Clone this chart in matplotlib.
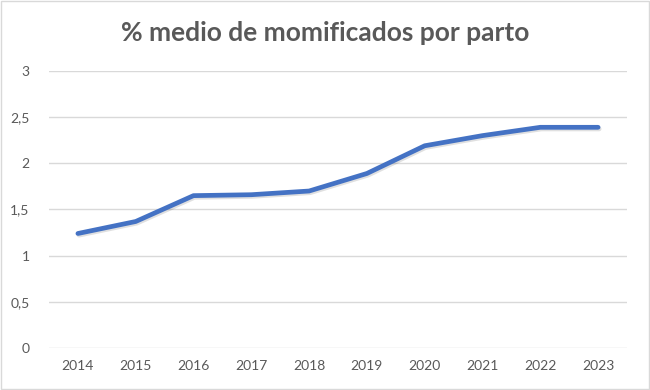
import matplotlib.pyplot as plt
import matplotlib.patheffects as pe

years = ['2014', '2015', '2016', '2017', '2018', '2019', '2020', '2021', '2022', '2023']
momificados = [1.24, 1.37, 1.65, 1.66, 1.70, 1.89, 2.19, 2.30, 2.39, 2.39]
y_ticks = [0, 0.5, 1, 1.5, 2, 2.5, 3]
y_labels = ['0', '0,5', '1', '1,5', '2', '2,5', '3']

plt.rcParams['font.family'] = ['Lato', 'DejaVu Sans']

fig = plt.figure(figsize=(6.5, 3.9), dpi=100)
ax = fig.add_axes([0.0754, 0.1077, 0.8892, 0.7103])

x = list(range(len(years)))
ax.plot(x, momificados, color='#4472C4', linewidth=3.4, solid_capstyle='round',
        path_effects=[pe.SimpleLineShadow(offset=(0.8, -1.2), alpha=0.12, shadow_color='black'),
                      pe.Normal()])

ax.set_xlim(-0.5, len(years) - 0.5)
ax.set_ylim(0, 3)
ax.set_xticks(x)
ax.set_xticklabels(years)
ax.set_yticks(y_ticks)
ax.set_yticklabels(y_labels)
ax.tick_params(length=0, colors='#595959', labelsize=10)
ax.tick_params(axis='x', pad=9)
ax.tick_params(axis='y', pad=14)
ax.grid(axis='y', color='#D9D9D9', linewidth=1)
ax.set_axisbelow(True)
for s in ax.spines.values():
    s.set_visible(False)

fig.text(0.5, 0.915, '% medio de momificados por parto', ha='center', va='center',
         fontsize=19, fontweight='bold', color='#595959')

fig.patches.append(plt.Rectangle((0.002, 0.003), 0.996, 0.994, transform=fig.transFigure,
                                 fill=False, edgecolor='#D9D9D9', linewidth=1))

fig.savefig('out.png', dpi=100)
